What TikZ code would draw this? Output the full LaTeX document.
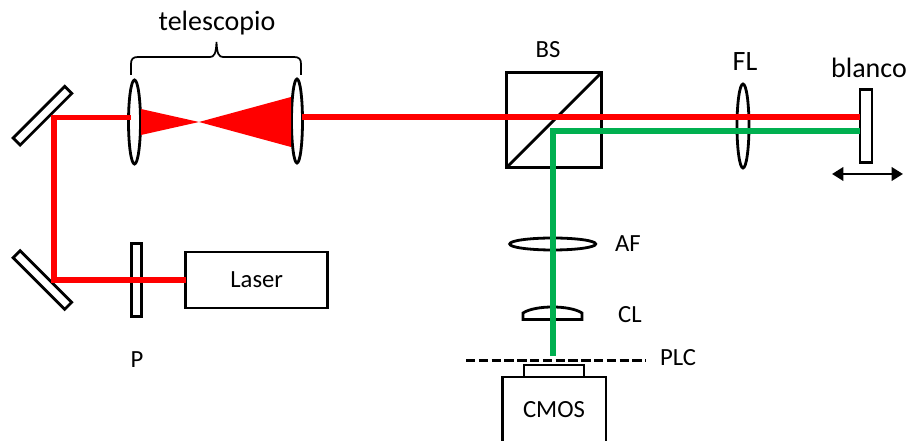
\documentclass[tikz,border=0pt]{standalone}
\usepackage{fontspec}
\setmainfont{Carlito}
\usetikzlibrary{arrows.meta,shapes.geometric}
\definecolor{BeamRed}{HTML}{FF0000}
\definecolor{BeamGreen}{HTML}{00B050}
\newcommand{\px}{0.75pt}
\tikzset{
  optic/.style={draw=black, line width=2.1pt, fill=white, inner sep=0pt, outer sep=0pt},
  slab/.style={optic, rectangle},
  lens/.style={optic, ellipse},
  redbeam/.style={BeamRed, line width=4.4pt},
  greenbeam/.style={BeamGreen, line width=4.4pt},
  biglabel/.style={font=\fontsize{21}{21}\selectfont, inner sep=0pt},
  smalllabel/.style={font=\fontsize{18.5}{18.5}\selectfont, inner sep=0pt}
}
\begin{document}
\begin{tikzpicture}[x=\px, y=-\px]
    \useasboundingbox (0,0) rectangle (908,441);
    % mirrors and plates
    \node[slab, rotate=45, minimum width=73*\px, minimum height=10*\px] (mirrorT) at (42.5,115.7) {};
    \node[slab, rotate=-45, minimum width=73*\px, minimum height=10*\px] (mirrorB) at (42.4,280) {};
    \node[slab, minimum width=10*\px, minimum height=73*\px] (polar) at (136.3,280) {};
    \node[slab, minimum width=142*\px, minimum height=56*\px] (laser) at (256.7,280) {};
    \node[slab, minimum width=12*\px, minimum height=73*\px] (target) at (866,126) {};
    \node[slab, minimum width=95*\px, minimum height=95*\px] (bs) at (554.2,120) {};
    \draw[line width=2.1pt] (bs.south west) -- (bs.north east);
    % lenses
    \node[lens, minimum width=12*\px, minimum height=84*\px] (tele1) at (134.5,122) {};
    \node[lens, minimum width=11*\px, minimum height=84*\px] (tele2) at (297,121) {};
    \node[lens, minimum width=12*\px, minimum height=84*\px] (fl) at (743,126) {};
    \node[lens, minimum width=86*\px, minimum height=12*\px] (af) at (552.7,244) {};
    \draw[line width=2.1pt, fill=white] (523,319.5) -- (523,313) .. controls (535,305) and (570,305) .. (582,313) -- (582,319.5) -- cycle;
    % camera
    \node[slab, minimum width=60*\px, minimum height=12*\px] (sensor) at (554,371) {};
    \draw[line width=2.1pt] (502.7,441) -- (502.7,377) -- (606,377) -- (606,441);
    \draw[line width=2.1pt, dash pattern=on 7pt off 2.6pt] (466,360.7) -- (646,360.7);
    % beam points
    \coordinate (cornerT) at (54,117.5);
    \coordinate (cornerB) at (54,280);
    \coordinate (teleIn) at (131,117.5);
    \coordinate (teleOut) at (302,116.7);
    \coordinate (hitR) at (860,116.7);
    \coordinate (hitG) at (860,130.7);
    \coordinate (bendG) at (553,130.7);
    \coordinate (camIn) at (553,356);
    % beams
    \fill[BeamRed] (141,109) -- (199,122) -- (291,97) -- (291,147) -- (199,122) -- (141,135) -- cycle;
    \draw[redbeam] (laser.west) -- (cornerB) -- (cornerT) -- (teleIn);
    \draw[redbeam] (teleOut) -- (hitR);
    \draw[greenbeam] (hitG) -- (bendG) -- (camIn);
    % stage arrow
    \coordinate (stageL) at (832,174);
    \coordinate (stageR) at (903,174);
    \draw[{Triangle[length=8.5pt,width=10pt]}-{Triangle[length=8.5pt,width=10pt]}, line width=1.9pt] (stageL) -- (stageR);
    % brace
    \draw[line width=1.3pt] (131,75) -- (131,64) .. controls (131,59) and (133,57) .. (138,57) -- (210,57) .. controls (214,57) and (216,54) .. (216.5,42) .. controls (217,54) and (219,57) .. (223,57) -- (294,57) .. controls (299,57) and (301,59) .. (301,64) -- (301,75);
    % labels
    \node[biglabel] (telelabel) at (217,23) {telescopio};
    \node[biglabel] (fllabel) at (745,62) {FL};
    \node[biglabel] (targetlabel) at (869,68) {blanco};
    \node[smalllabel] (bslabel) at (548,50) {BS};
    \node[smalllabel] (aflabel) at (628,244) {AF};
    \node[smalllabel] (cllabel) at (630,315) {CL};
    \node[smalllabel] (plclabel) at (678,358) {PLC};
    \node[smalllabel] (plabel) at (137,360) {P};
    \node[smalllabel] (laserlabel) at (laser.center) {Laser};
    \node[smalllabel] (cmoslabel) at (554,410) {CMOS};
\end{tikzpicture}
\end{document}
